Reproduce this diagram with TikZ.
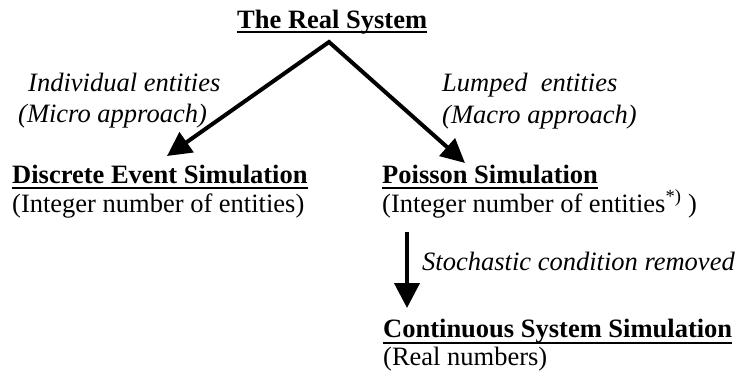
\documentclass[tikz,border=0pt]{standalone}
\usepackage{fontspec}
\setmainfont{Liberation Serif}
\usetikzlibrary{arrows.meta}
\begin{document}
\begin{tikzpicture}[x=1pt,y=-1pt,
  txt/.style={anchor=base west,inner sep=0pt,font=\fontsize{26.5pt}{30pt}\selectfont},
  ttl/.style={txt,font=\fontsize{26.5pt}{30pt}\selectfont\bfseries},
  lbl/.style={txt,font=\fontsize{26.5pt}{30pt}\selectfont\itshape},
  ul/.style={line width=1.5pt},
  bigarrow/.style={line width=4pt,line join=miter,
    {Triangle[length=24pt,width=24pt]}-{Triangle[length=24pt,width=23pt]}},
  downarrow/.style={line width=4pt,-{Triangle[length=25pt,width=25pt]}}]
\useasboundingbox (0,0) rectangle (738,376);
% titles
\node[ttl] (top) at (237,28) {The Real System};
\node[ttl] (des) at (12,183) {Discrete Event Simulation};
\node[txt] (desi) at (12,212) {(Integer number of entities)};
\node[ttl] (pois) at (382,183) {Poisson Simulation};
\node[txt] (poisi) at (382,212) {(Integer number of entities\textsuperscript{*)} )};
\node[ttl] (css) at (383,337) {Continuous System Simulation};
\node[txt] (real) at (383,365) {(Real numbers)};
% labels
\node[lbl] (ind1) at (28,91) {Individual entities};
\node[lbl] (ind2) at (18,122) {(Micro approach)};
\node[lbl] (lump1) at (442,91) {Lumped\ \ entities};
\node[lbl] (lump2) at (442,123) {(Macro approach)};
\node[lbl] (stoch) at (422,270) {Stochastic condition removed};
% underlines
\foreach \n/\d in {top/4,des/5,pois/5,css/6}{
  \draw[ul] ([yshift=-\d pt]\n.base west) -- ([yshift=-\d pt]\n.base east);
}
% arrows
\coordinate (apex) at (329,42);
\coordinate (tipL) at (167,156);
\coordinate (tipR) at (465,163);
\draw[bigarrow] (tipL) -- (apex) -- (tipR);
\coordinate (dstart) at (407,232);
\coordinate (dend) at (407,308);
\draw[downarrow] (dstart) -- (dend);
\end{tikzpicture}
\end{document}
